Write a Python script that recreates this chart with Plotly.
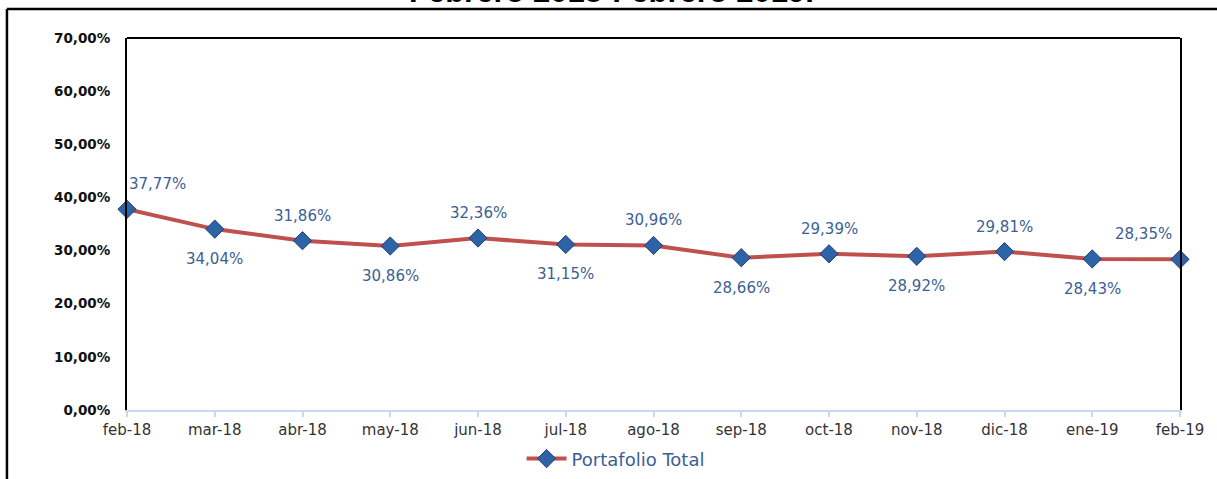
import plotly.graph_objects as go

months = ["feb-18", "mar-18", "abr-18", "may-18", "jun-18", "jul-18", "ago-18",
          "sep-18", "oct-18", "nov-18", "dic-18", "ene-19", "feb-19"]
values = [37.77, 34.04, 31.86, 30.86, 32.36, 31.15, 30.96, 28.66, 29.39, 28.92, 29.81, 28.43, 28.35]
y_ticks = [0, 10, 20, 30, 40, 50, 60, 70]
y_tick_text = ["0,00%", "10,00%", "20,00%", "30,00%", "40,00%", "50,00%", "60,00%", "70,00%"]
series_name = "Portafolio Total"
title_text = "Febrero 2018-Febrero 2019."

def fmt(v):
    return f"{v:.2f}".replace(".", ",") + "%"

fig = go.Figure()
fig.add_trace(go.Scatter(
    x=list(range(len(months))), y=values, mode="lines+markers", name=series_name,
    line=dict(color="#c0504d", width=4),
    marker=dict(symbol="diamond", size=14, color="#2e63a8", line=dict(color="#1f3f73", width=1)),
    cliponaxis=False,
))

annotations = []
n = len(values)
for i, v in enumerate(values):
    above = (i % 2 == 0)
    a = dict(x=i, y=v, xref="x", yref="y", text=fmt(v), showarrow=False,
             font=dict(family="DejaVu Sans", size=15, color="#3b5f94"),
             yshift=25 if above else -30)
    if i == 0:
        a.update(xanchor="left", xshift=0)
    elif i == n - 1:
        a.update(xanchor="right", xshift=-6)
    annotations.append(a)

annotations.append(dict(x=0.46, y=1.0726, xref="paper", yref="paper", text=f"<b>{title_text}</b>",
                        showarrow=False, xanchor="center", yanchor="bottom",
                        font=dict(family="Liberation Sans", size=31, color="#000000")))

shapes = [
    # plot area top border
    dict(type="line", xref="paper", yref="paper", x0=0, x1=1, y0=1, y1=1,
         line=dict(color="#000000", width=2)),
    # outer frame top and left
    dict(type="line", xref="paper", yref="paper", x0=-0.114, x1=1.05, y0=1.078, y1=1.078,
         line=dict(color="#000000", width=2.5)),
    dict(type="line", xref="paper", yref="paper", x0=-0.114, x1=-0.114, y0=1.078, y1=-0.2,
         line=dict(color="#000000", width=2.5)),
]

fig.update_layout(
    width=1217, height=479,
    margin=dict(l=127, r=37, t=38, b=69, autoexpand=False),
    plot_bgcolor="white", paper_bgcolor="white",
    showlegend=True,
    legend=dict(orientation="h", x=0.464, xanchor="center", y=0.042, yanchor="middle",
                yref="container",
                font=dict(family="DejaVu Sans", size=18, color="#3b5f94"), itemwidth=40),
    annotations=annotations,
    shapes=shapes,
    xaxis=dict(range=[0, n - 1], tickvals=list(range(n)), ticktext=months,
               showgrid=False, zeroline=False, showline=True, linecolor="#c6d9f1", linewidth=2,
               ticks="outside", ticklen=5, tickcolor="#c6d9f1", tickwidth=2,
               tickfont=dict(family="DejaVu Sans", size=15, color="#333333")),
    yaxis=dict(range=[0, 70], tickvals=y_ticks, ticktext=[f"<b>{t}</b>" for t in y_tick_text],
               showgrid=False, zeroline=False, showline=True, linecolor="#000000", linewidth=2,
               mirror=True, ticks="", ticklabelstandoff=12,
               tickfont=dict(family="DejaVu Sans", size=13.5, color="#111111")),
)

fig.write_html("out.html", config={"displayModeBar": False},
               post_script="document.body.style.margin='0';document.body.style.overflow='hidden';")
